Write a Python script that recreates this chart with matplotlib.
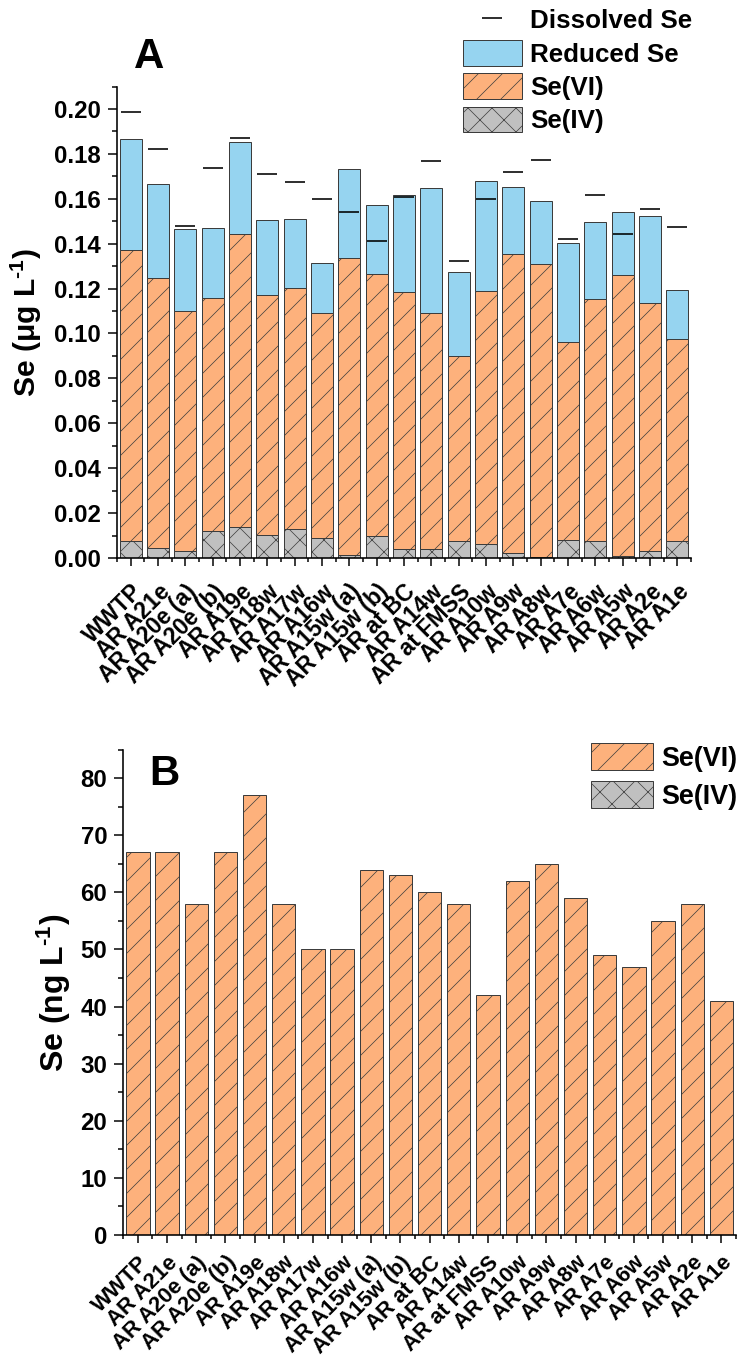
import numpy as np
import matplotlib
matplotlib.use("Agg")
import matplotlib.pyplot as plt
from matplotlib.patches import Patch
from matplotlib.lines import Line2D
from matplotlib.ticker import MultipleLocator, FixedLocator, FormatStrFormatter

# ==========================
# DATA
# ==========================
sites = ["WWTP", "AR A21e", "AR A20e (a)", "AR A20e (b)", "AR A19e", "AR A18w",
         "AR A17w", "AR A16w", "AR A15w (a)", "AR A15w (b)", "AR at BC", "AR A14w",
         "AR at FMSS", "AR A10w", "AR A9w", "AR A8w", "AR A7e", "AR A6w",
         "AR A5w", "AR A2e", "AR A1e"]

# panel A (ug/L)
se_iv = [0.0074, 0.0045, 0.0031, 0.0120, 0.0140, 0.0104, 0.0129, 0.0091, 0.0015, 0.0097,
         0.0040, 0.0039, 0.0074, 0.0061, 0.0022, 0.0004, 0.0079, 0.0074, 0.0010, 0.0031, 0.0074]
se_vi = [0.1298, 0.1204, 0.1071, 0.1038, 0.1302, 0.1067, 0.1075, 0.1002, 0.1320, 0.1170,
         0.1145, 0.1051, 0.0825, 0.1127, 0.1331, 0.1306, 0.0881, 0.1080, 0.1252, 0.1106, 0.0900]
reduced = [0.0495, 0.0416, 0.0362, 0.0314, 0.0410, 0.0336, 0.0308, 0.0223, 0.0398, 0.0303,
           0.0432, 0.0559, 0.0375, 0.0493, 0.0299, 0.0278, 0.0443, 0.0343, 0.0277, 0.0385, 0.0221]
dissolved = [0.1986, 0.1823, 0.1479, 0.1736, 0.1870, 0.1711, 0.1674, 0.1600, 0.1543, 0.1414,
             0.1608, 0.1768, 0.1323, 0.1600, 0.1721, 0.1772, 0.1420, 0.1616, 0.1445, 0.1553, 0.1475]

# panel B (ng/L)
se_vi_b = [67, 67, 58, 67, 77, 58, 50, 50, 64, 63, 60, 58, 42, 62, 65, 59, 49, 47, 55, 58, 41]

# ==========================
# STYLE
# ==========================
plt.rcParams['font.family'] = ['Liberation Sans', 'DejaVu Sans']
plt.rcParams['font.weight'] = 'bold'
plt.rcParams['mathtext.fontset'] = 'custom'
plt.rcParams['mathtext.rm'] = 'Liberation Sans:bold'
plt.rcParams['mathtext.bf'] = 'Liberation Sans:bold'
plt.rcParams['mathtext.default'] = 'bf'
plt.rcParams['hatch.linewidth'] = 0.7

c_blue = "#96D4F0"
c_orange = "#FDB17C"
c_gray = "#C0C0C0"
c_edge = "#3C3C3C"

DPI = 72
fig = plt.figure(figsize=(743 / DPI, 1364 / DPI), dpi=DPI)

x = np.arange(len(sites))
se_iv = np.array(se_iv)
se_vi = np.array(se_vi)
reduced = np.array(reduced)


def style_axis(ax, ymajor, yminor, xlabsize, xpad):
    for s in ["top", "right"]:
        ax.spines[s].set_visible(False)
    for s in ["left", "bottom"]:
        ax.spines[s].set_linewidth(1.6)
    ax.set_xlim(-0.5, len(sites) - 0.5)
    ax.set_xticks(x)
    ax.xaxis.set_minor_locator(FixedLocator(np.arange(-0.5, len(sites), 1.0)))
    ax.yaxis.set_major_locator(MultipleLocator(ymajor))
    ax.yaxis.set_minor_locator(MultipleLocator(yminor))
    ax.tick_params(axis='y', which='major', direction='out', length=9, width=1.5,
                   labelsize=24, pad=7)
    ax.tick_params(axis='y', which='minor', direction='out', length=5, width=1.5)
    ax.tick_params(axis='x', which='major', direction='out', length=8, width=1.5, pad=xpad)
    ax.tick_params(axis='x', which='minor', direction='out', length=4, width=1.5)
    ax.set_xticklabels(sites, rotation=45, ha='right', va='top',
                       rotation_mode='anchor', fontsize=xlabsize, fontweight='bold')
    for lab in ax.get_yticklabels():
        lab.set_fontweight('bold')


# ==========================
# PANEL A
# ==========================
ax1 = fig.add_axes([117 / 743, 1 - 558 / 1364, 574 / 743, (558 - 86.5) / 1364])

ax1.bar(x, se_iv, width=0.8, color=c_gray, edgecolor=c_edge, linewidth=1, hatch='x')
ax1.bar(x, se_vi, width=0.8, bottom=se_iv, color=c_orange, edgecolor=c_edge,
        linewidth=1, hatch='/')
ax1.bar(x, reduced, width=0.8, bottom=se_iv + se_vi, color=c_blue, edgecolor=c_edge,
        linewidth=1)
ax1.hlines(dissolved, x - 0.37, x + 0.37, color='black', linewidth=1.6, zorder=4)

ax1.set_ylim(0, 0.21)
style_axis(ax1, 0.02, 0.01, 23, 14)
ax1.yaxis.set_major_formatter(FormatStrFormatter('%.2f'))
ax1.set_ylabel(r'Se ($\mathbf{\mu}$g L$^{\text{-1}}$)', fontsize=30, fontweight='bold')
ax1.yaxis.set_label_coords(-0.127, 0.5)

fig.text(149 / 743, 1 - 68 / 1364, "A", fontsize=42, fontweight='bold',
         ha='center', va='baseline')

handles_a = [
    Line2D([], [], color='black', marker='_', linestyle='none', markersize=20,
           markeredgewidth=1.6),
    Patch(facecolor=c_blue, edgecolor=c_edge, linewidth=1),
    Patch(facecolor=c_orange, edgecolor=c_edge, linewidth=1, hatch='/'),
    Patch(facecolor=c_gray, edgecolor=c_edge, linewidth=1, hatch='x'),
]
fig.legend(handles_a, ["Dissolved Se", "Reduced Se", "Se(VI)", "Se(IV)"],
           loc='upper left', bbox_to_anchor=(462.7 / 743, 1 - 7 / 1364),
           frameon=False, borderpad=0, borderaxespad=0,
           handlelength=2.27, handleheight=1.12, labelspacing=0.26,
           handletextpad=0.32, prop={'weight': 'bold', 'size': 26})

# ==========================
# PANEL B
# ==========================
ax2 = fig.add_axes([123.3 / 743, 1 - 1235 / 1364, 612.7 / 743, 485.4 / 1364])

ax2.bar(x, se_vi_b, width=0.8, color=c_orange, edgecolor=c_edge, linewidth=1, hatch='/')
ax2.set_ylim(0, 85)
style_axis(ax2, 10, 5, 22, 9)
ax2.set_ylabel(r'Se (ng L$^{\text{-1}}$)', fontsize=32, fontweight='bold')
ax2.yaxis.set_label_coords(-0.082, 0.5)

fig.text(164 / 743, 1 - 785 / 1364, "B", fontsize=42, fontweight='bold',
         ha='center', va='baseline')

handles_b = [
    Patch(facecolor=c_orange, edgecolor=c_edge, linewidth=1, hatch='/'),
    Patch(facecolor=c_gray, edgecolor=c_edge, linewidth=1, hatch='x'),
]
fig.legend(handles_b, ["Se(VI)", "Se(IV)"],
           loc='upper left', bbox_to_anchor=(591 / 743, 1 - 743 / 1364),
           frameon=False, borderpad=0, borderaxespad=0,
           handlelength=2.3, handleheight=1.15, labelspacing=0.36,
           handletextpad=0.3, prop={'weight': 'bold', 'size': 27})

fig.savefig("out.png", dpi=DPI)
